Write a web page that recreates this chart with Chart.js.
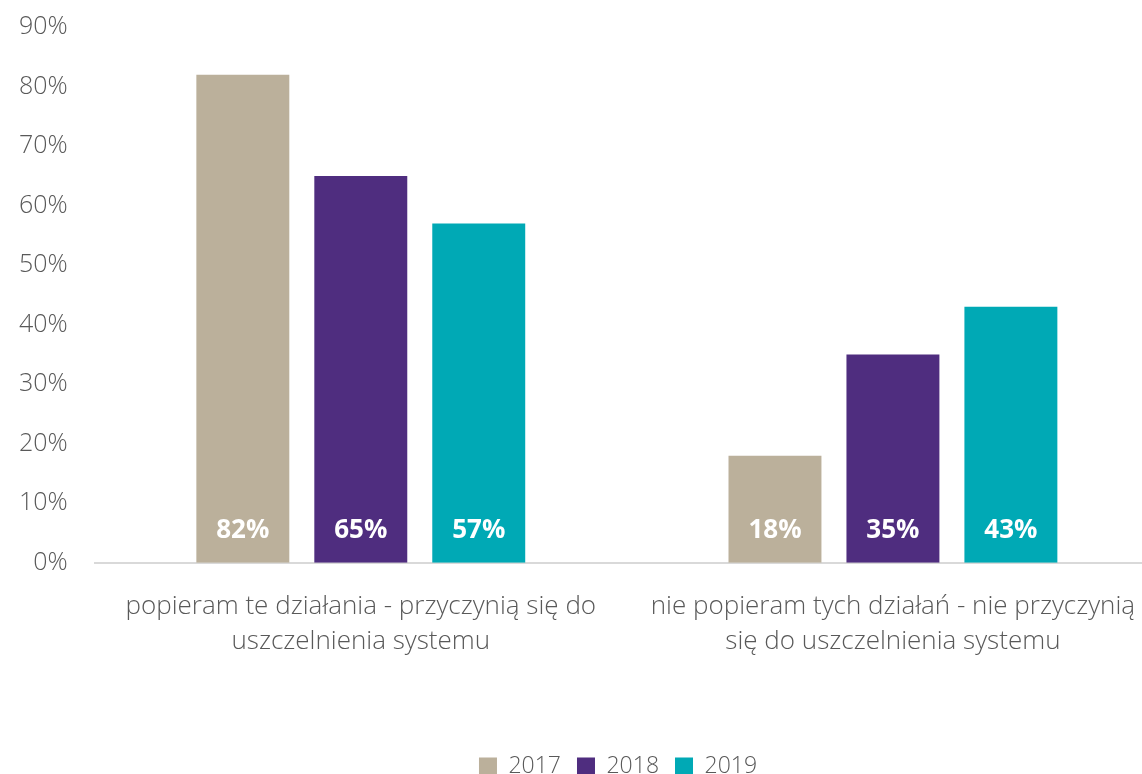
<!DOCTYPE html>
<html>
<head>
<meta charset="utf-8">
<script src="https://cdn.jsdelivr.net/npm/chart.js@4.4.1/dist/chart.umd.min.js"></script>
<style>
  html, body { margin: 0; padding: 0; background: #ffffff; overflow: hidden; }
  #wrap { position: relative; width: 1160px; height: 774px; }
</style>
</head>
<body>
<div id="wrap"><canvas id="c"></canvas></div>
<script>
const categories = [
  ["popieram te działania - przyczynią się do", "uszczelnienia systemu"],
  ["nie popieram tych działań - nie przyczynią", "się do uszczelnienia systemu"]
];
const seriesNames = ["2017", "2018", "2019"];
const values2017 = [82, 18];
const values2018 = [65, 35];
const values2019 = [57, 43];
const seriesColors = ["#BBB09B", "#4F2D7F", "#00A9B5"];
const yMax = 90;
const yStep = 10;

const FONT = "'Open Sans', 'DejaVu Sans', sans-serif";
const TEXT = "#595959";

const barLabels = {
  id: 'barLabels',
  afterDatasetsDraw(chart) {
    const ctx = chart.ctx;
    ctx.save();
    ctx.fillStyle = '#ffffff';
    ctx.font = "bold 26px " + FONT;
    ctx.textAlign = 'center';
    ctx.textBaseline = 'middle';
    chart.data.datasets.forEach((ds, di) => {
      const meta = chart.getDatasetMeta(di);
      meta.data.forEach((bar, i) => {
        ctx.fillText(ds.data[i] + '%', bar.x, bar.base - 32);
      });
    });
    ctx.restore();
  }
};

const legendShift = {
  id: 'legendShift',
  afterLayout(chart) {
    const lg = chart.legend;
    if (!lg) return;
    const dx = 618 - (lg.left + lg.right) / 2;
    lg.left += dx; lg.right += dx;
    const dy = 14;
    lg.top += dy; lg.bottom += dy;
  }
};

const seriesData = [values2017, values2018, values2019];

new Chart(document.getElementById('c'), {
  type: 'bar',
  data: {
    labels: categories,
    datasets: seriesNames.map((n, i) => ({
      label: n,
      data: seriesData[i],
      backgroundColor: seriesColors[i],
      borderWidth: 0,
      categoryPercentage: 0.665,
      barPercentage: 0.788
    }))
  },
  options: {
    responsive: true,
    maintainAspectRatio: false,
    animation: false,
    layout: { padding: { left: 0, right: 1, top: 0, bottom: 0 } },
    plugins: {
      legend: {
        position: 'bottom',
        labels: {
          font: { family: FONT, size: 23, weight: 300 },
          color: TEXT,
          boxWidth: 18,
          boxHeight: 18,
          padding: 16
        }
      },
      tooltip: { enabled: false }
    },
    scales: {
      x: {
        grid: { display: false },
        border: { display: true, color: '#d9d9d9', width: 2 },
        ticks: {
          font: { family: FONT, size: 26, weight: 300, lineHeight: 1.35 },
          color: TEXT,
          maxRotation: 0, minRotation: 0, autoSkip: false,
          padding: 18
        },
        afterFit(scale) { scale.height += 48; }
      },
      y: {
        min: 0, max: yMax,
        grid: { display: false },
        border: { display: false },
        ticks: {
          stepSize: yStep,
          font: { family: FONT, size: 25, weight: 300, lineHeight: 0.65 },
          color: TEXT,
          padding: 19,
          callback: v => v + '%'
        }
      }
    }
  },
  plugins: [barLabels, legendShift]
});
</script>
</body>
</html>
